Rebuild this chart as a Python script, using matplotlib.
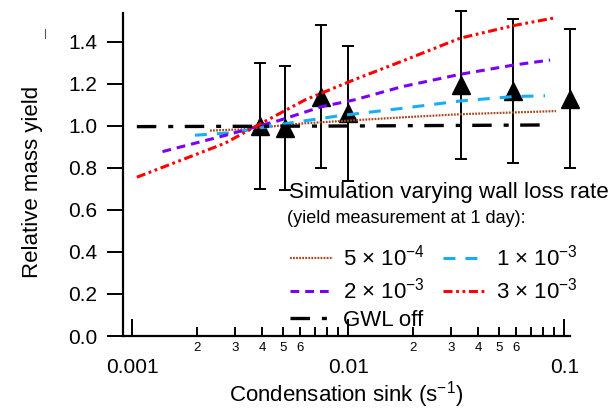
import numpy as np
import matplotlib
matplotlib.use("Agg")
import matplotlib.pyplot as plt
from matplotlib.ticker import FixedLocator, FuncFormatter, FormatStrFormatter
from matplotlib.lines import Line2D

plt.rcParams['font.family'] = ['Liberation Sans', 'DejaVu Sans']
plt.rcParams['mathtext.fontset'] = 'custom'
plt.rcParams['mathtext.rm'] = 'Liberation Sans'
plt.rcParams['mathtext.it'] = 'Liberation Sans:italic'
plt.rcParams['mathtext.bf'] = 'Liberation Sans:bold'
plt.rcParams['lines.scale_dashes'] = False

# Chamber measurements: condensation sink (s^-1), relative yield and error
cs_meas = [0.0039, 0.0051, 0.0075, 0.0100, 0.0333, 0.0581, 0.106]
yield_meas = [1.00, 0.99, 1.14, 1.06, 1.195, 1.167, 1.13]
yield_err = [0.30, 0.295, 0.34, 0.32, 0.352, 0.342, 0.33]

# Simulations for different wall loss rates (yield at 1 day)
cs_5e4 = [0.00229, 0.00321, 0.0063, 0.0177, 0.0329, 0.0915]
y_5e4 = [0.978, 0.984, 1.013, 1.041, 1.056, 1.071]

cs_1e3 = [0.00195, 0.00289, 0.00527, 0.00899, 0.0177, 0.0329, 0.0581, 0.0814]
y_1e3 = [0.956, 0.968, 1.013, 1.048, 1.084, 1.119, 1.140, 1.144]

cs_2e3 = [0.00138, 0.00269, 0.0037, 0.00474, 0.00753, 0.01074, 0.0177, 0.0329, 0.0581, 0.0859]
y_2e3 = [0.878, 0.955, 0.995, 1.025, 1.092, 1.125, 1.187, 1.246, 1.290, 1.314]

cs_3e3 = [0.00105, 0.00269, 0.00383, 0.0063, 0.01074, 0.0183, 0.0329, 0.0581, 0.0915]
y_3e3 = [0.756, 0.918, 1.005, 1.124, 1.222, 1.314, 1.418, 1.478, 1.516]

cs_off = [0.00105, 0.0100, 0.0859]
y_off = [0.997, 1.000, 1.005]

title_line1 = "Simulation varying wall loss rate"
title_line2 = "(yield measurement at 1 day):"
lab_5e4 = "5 × 10$^{-4}$"
lab_1e3 = "1 × 10$^{-3}$"
lab_2e3 = "2 × 10$^{-3}$"
lab_3e3 = "3 × 10$^{-3}$"
lab_off = "GWL off"

W, H = 615, 409
fig = plt.figure(figsize=(W / 100, H / 100), dpi=100)
ax = fig.add_axes([123 / W, 73 / H, 447 / W, 323 / H])

# measurements with error bars
ax.errorbar(cs_meas, yield_meas, yerr=yield_err, fmt='^', color='black',
            markersize=12.5, ecolor='black', elinewidth=1.4, capsize=4,
            capthick=1.4, clip_on=False, zorder=2)

l_5e4, = ax.plot(cs_5e4, y_5e4, color='#A5481E', lw=1.6, dashes=(1.3, 0.9), zorder=3)
l_1e3, = ax.plot(cs_1e3, y_1e3, color='#17AEF8', lw=2.2, dashes=(8.6, 7.2), zorder=3)
l_2e3, = ax.plot(cs_2e3, y_2e3, color='#7A00F5', lw=2.2, dashes=(6.3, 4.3), zorder=3)
l_3e3, = ax.plot(cs_3e3, y_3e3, color='#FF0000', lw=2.2,
                 dashes=(6.5, 2.6, 2.0, 2.6, 2.0, 2.6), zorder=3)
l_off, = ax.plot(cs_off, y_off, color='black', lw=2.4,
                 dashes=(14.0, 8.6, 3.6, 8.3), zorder=3)

ax.set_xscale('log')
ax.set_xlim(0.000906, 0.1062)
ax.set_ylim(0, 1.538)

ax.xaxis.set_major_locator(FixedLocator([0.001, 0.01, 0.1]))
ax.xaxis.set_major_formatter(FuncFormatter(lambda v, p: f"{v:g}"))
minor = [m * d for d in (0.001, 0.01) for m in range(2, 10)]
ax.xaxis.set_minor_locator(FixedLocator(minor))


def minor_fmt(v, p):
    m = int(round(v / 10 ** np.floor(np.log10(v) + 1e-9)))
    return str(m) if 2 <= m <= 6 else ""


ax.xaxis.set_minor_formatter(FuncFormatter(minor_fmt))
ax.set_yticks(np.arange(0, 1.41, 0.2))
ax.yaxis.set_major_formatter(FormatStrFormatter('%.1f'))

ax.tick_params(axis='x', which='major', direction='in', length=12, width=1.4,
               pad=16, labelsize=15)
ax.tick_params(axis='x', which='minor', direction='in', length=6.5, width=1.4,
               pad=4, labelsize=9.5)
ax.tick_params(axis='y', which='major', direction='out', length=11.5, width=1.4,
               pad=7, labelsize=15)

for s in ('top', 'right'):
    ax.spines[s].set_visible(False)
for s in ('left', 'bottom'):
    ax.spines[s].set_linewidth(1.6)

fig.text(346 / W, 1 - 402 / H, "Condensation sink (s$^{-1}$)", ha='center',
         va='baseline', fontsize=16)
fig.text(33 / W, 1 - 182 / H, "Relative mass yield", rotation=90, ha='center',
         va='center', fontsize=16)

# legend heading, two lines of different size
fig.text(289 / W, 1 - 198 / H, title_line1, ha='left', va='baseline',
         fontsize=16.1)
fig.text(287 / W, 1 - 223 / H, title_line2, ha='left', va='baseline',
         fontsize=13)

handles = [l_5e4, l_2e3, l_off, l_1e3, l_3e3]
labels = [lab_5e4, lab_2e3, lab_off, lab_1e3, lab_3e3]
leg = fig.legend(handles, labels, loc='upper left',
                 bbox_to_anchor=(290 / W, 1 - 245 / H),
                 bbox_transform=fig.transFigure, ncol=2, frameon=False,
                 borderpad=0, borderaxespad=0, fontsize=16,
                 handlelength=1.95, handletextpad=0.45,
                 columnspacing=0.8, labelspacing=0.3)

fig.add_artist(Line2D([45 / W, 45 / W], [1 - 29 / H, 1 - 38 / H],
                      color='0.35', lw=0.8))

fig.savefig('out.png', dpi=100)
